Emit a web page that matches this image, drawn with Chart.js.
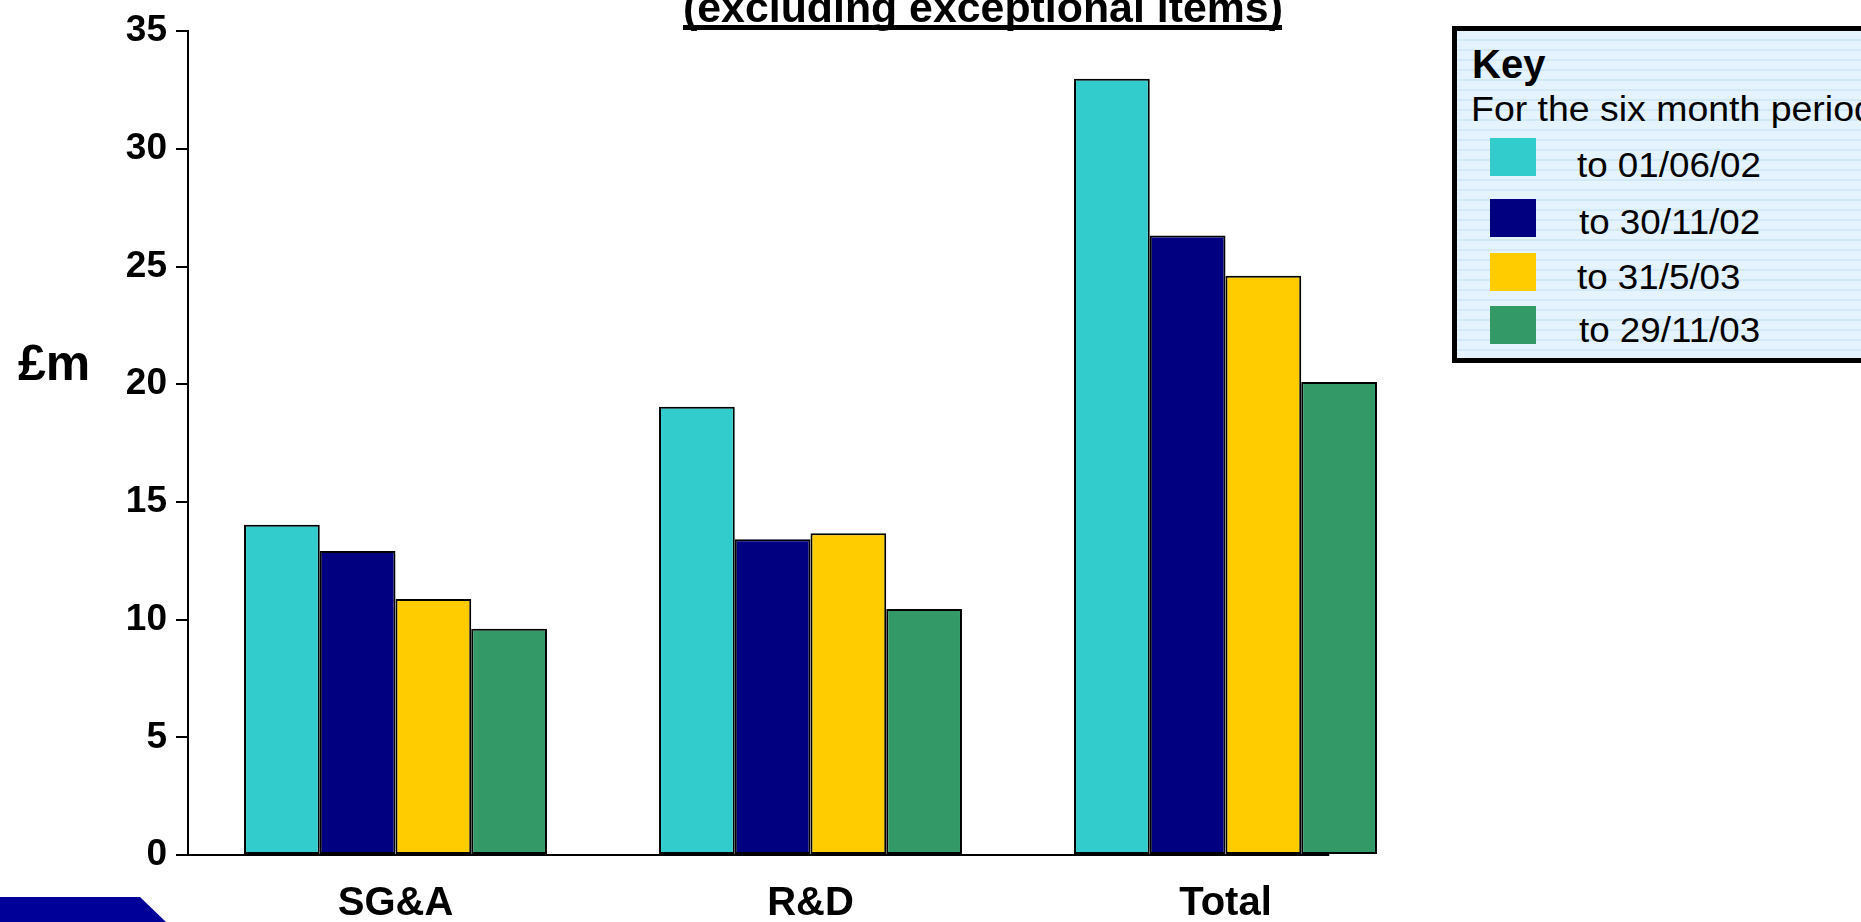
<!DOCTYPE html>
<html>
<head>
<meta charset="utf-8">
<script src="https://cdn.jsdelivr.net/npm/chart.js@4/dist/chart.umd.min.js"></script>
<style>
    html, body { margin: 0; padding: 0; background: #fff; overflow: hidden; }
    body { width: 1861px; height: 922px; position: relative; font-family: "Liberation Sans", Arial, sans-serif; color: #000; }
    #chart { position: absolute; left: 0; top: 0; }
    .title { position: absolute; left: 683px; top: -13px; font-size: 42px; line-height: 42px; font-weight: bold; white-space: nowrap; transform: scaleX(1.02); transform-origin: left top; }
    .title-line { position: absolute; left: 683px; top: 25px; width: 599px; height: 5px; background: #000; }
    .unit { position: absolute; left: 18px; top: 338px; font-size: 50px; line-height: 50px; font-weight: bold; }
    .corner { position: absolute; left: 0; top: 897px; width: 166px; height: 25px; background: #000099; clip-path: polygon(0 0, 140px 0, 166px 25px, 0 25px); }
    .key { position: absolute; left: 1452px; top: 26px; width: 520px; height: 337px; box-sizing: border-box; border: 5px solid #000;
        background: repeating-linear-gradient(to bottom, #e4f3fd 0, #e4f3fd 8px, #d2e9f8 8px, #d2e9f8 10px); }
    .key-item { position: absolute; white-space: nowrap; }
</style>
</head>
<body>
<canvas id="chart" width="1861" height="922"></canvas>
<div class="title">(excluding exceptional items)</div>
<div class="title-line"></div>
<div class="unit">£m</div>
<div class="corner"></div>
<div class="key"></div>
<script>
    // Categories and series
    const categories = ['SG&A', 'R&D', 'Total']
    const seriesLabels = ['to 01/06/02', 'to 30/11/02', 'to 31/5/03', 'to 29/11/03']
    const to010602 = [14.03, 19.04, 32.98]
    const to301102 = [12.92, 13.42, 26.32]
    const to310503 = [10.88, 13.67, 24.61]
    const to291103 = [9.61, 10.45, 20.10]
    const yMin = 0
    const yMax = 35
    const yStep = 5

    const seriesValues = [to010602, to301102, to310503, to291103]
    const seriesColors = ['#33cccc', '#000080', '#ffcc00', '#339966']

    // Key box, built from the same series list
    const key = document.querySelector('.key')
    const addKeyItem = (text, css) => {
        const el = document.createElement('div')
        el.className = 'key-item'
        el.innerText = text
        Object.assign(el.style, css)
        key.append(el)
        return el
    }
    addKeyItem('Key', { left: '15px', top: '13px', fontSize: '40px', lineHeight: '40px', fontWeight: 'bold' })
    addKeyItem('For the six month period', {
        left: '14px', top: '60px', fontSize: '35px', lineHeight: '35px',
        transform: 'scaleX(1.07)', transformOrigin: 'left top'
    })

    const swatchTops = [107, 168, 222, 275]
    const labelTops = [116, 173, 228, 281]
    seriesLabels.forEach((name, i) => {
        addKeyItem('', { left: '33px', top: swatchTops[i] + 'px', width: '46px', height: '38px', background: seriesColors[i] })
        addKeyItem(name, {
            left: (i % 2 ? 122 : 120) + 'px', top: labelTops[i] + 'px',
            fontSize: '35px', lineHeight: '35px',
            transform: 'scaleX(1.05)', transformOrigin: 'left top'
        })
    })

    const font = (size) => ({ family: '"Liberation Sans", Arial, sans-serif', size: size, weight: 'bold' })

    // x axis line stops inside the last group, as in the original slide
    const baseline = {
        id: 'baseline',
        beforeDatasetsDraw(chart) {
            const { ctx, chartArea, scales: { x } } = chart
            const last = categories.length - 1
            const end = x.getPixelForValue(last) + (x.getPixelForValue(last) - x.getPixelForValue(last - 1)) / 4
            ctx.save()
            ctx.strokeStyle = '#000'
            ctx.lineWidth = 2
            ctx.beginPath()
            ctx.moveTo(chartArea.left, chartArea.bottom)
            ctx.lineTo(end, chartArea.bottom)
            ctx.stroke()
            ctx.restore()
        }
    }

    new Chart(document.getElementById('chart'), {
        type: 'bar',
        data: {
            labels: categories,
            datasets: seriesValues.map((values, i) => ({
                label: seriesLabels[i],
                data: values,
                backgroundColor: seriesColors[i],
                borderColor: '#000',
                borderWidth: 2,
                borderSkipped: false,
                categoryPercentage: 0.73,
                barPercentage: 1.0
            }))
        },
        options: {
            responsive: false,
            animation: false,
            devicePixelRatio: 1,
            layout: { padding: { top: 29, right: 428, bottom: 0, left: 0 } },
            plugins: {
                legend: { display: false },
                title: { display: false },
                tooltip: { enabled: false }
            },
            scales: {
                x: {
                    grid: { display: false, drawTicks: false },
                    border: { display: false },
                    ticks: { color: '#000', font: font(40), padding: 25 },
                    afterFit: s => { s.height = 67 }
                },
                y: {
                    min: yMin,
                    max: yMax,
                    grid: { drawOnChartArea: false, drawTicks: true, tickLength: 12, color: '#000', lineWidth: 2 },
                    border: { display: true, color: '#000', width: 2 },
                    ticks: { stepSize: yStep, color: '#000', font: font(37), padding: 9 },
                    afterFit: s => { s.width = 188 }
                }
            }
        },
        plugins: [baseline]
    })
</script>
</body>
</html>
